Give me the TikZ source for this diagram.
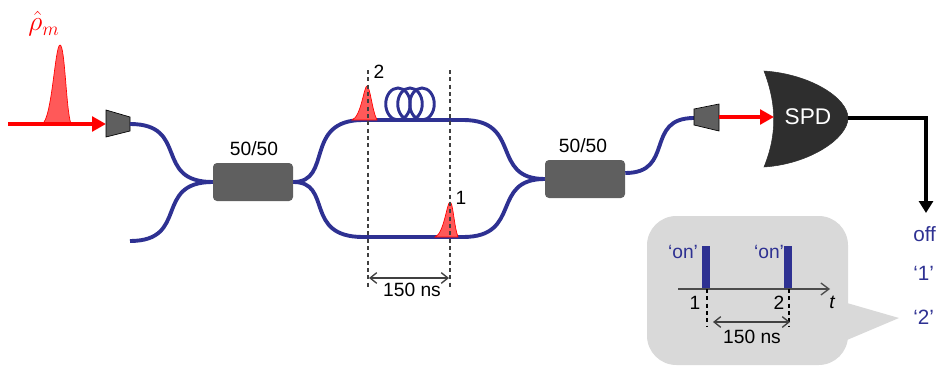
\documentclass[tikz,border=0pt]{standalone}
\usepackage{amsmath,amssymb}
\usepackage{fontspec}
\setmainfont{Liberation Sans}
\usetikzlibrary{arrows.meta}
\definecolor{fibre}{RGB}{46,49,146}
\definecolor{blockgray}{RGB}{95,95,95}
\definecolor{insetgray}{RGB}{217,217,217}
\tikzset{
  fibreline/.style={draw=fibre,line width=2.9pt},
  splitter/.style={rectangle,fill=blockgray,rounded corners=3pt,minimum width=60pt,minimum height=28.5pt,inner sep=0pt},
  coupler/.style={draw=black,line width=0.5pt,fill=blockgray},
  redbeam/.style={draw=red,line width=3.2pt,-{Triangle[length=10.5pt,width=11pt]}},
  pulseshape/.style={draw=red,line width=0.5pt,fill=red!65},
  marker/.style={line width=0.8pt,draw=black!75,dash pattern=on 3pt off 2.5pt},
  span/.style={draw=black!75,line width=1pt,{Straight Barb[length=5pt,width=8pt]}-{Straight Barb[length=5pt,width=8pt]}},
  lab/.style={font=\fontsize{14.4}{16}\selectfont,inner sep=0pt},
  statelab/.style={font=\fontsize{15.5}{17}\selectfont,text=fibre,inner sep=0pt,anchor=west}
}
\begin{document}
\begin{tikzpicture}[x=0.75pt,y=-0.75pt]
\useasboundingbox (0,0) rectangle (939,371);

% Input pulse and coupler
\node[text=red,inner sep=0pt,font=\fontsize{22}{24}\selectfont] (rho) at (44,24) {$\hat{\rho}_m$};
\draw[pulseshape] (42,124) .. controls (52,120) and (55,45) .. (60,45) .. controls (65,45) and (66,110) .. (71,124) -- cycle;
\coordinate (beamstart) at (8,124);
\coordinate (cplina) at (106,124);
\coordinate (cplinb) at (130,124);
\draw[redbeam] (beamstart) -- (cplina);
\draw[coupler] (106,110) -- (130,117) -- (130,131) -- (106,137) -- cycle;
\coordinate (freeend) at (130,241);

% First splitter
\node[splitter] (bsa) at (253,182) {};
\node[lab] (bsalab) at (254,149) {50/50};
\draw[fibreline] (cplinb) .. controls +(60,0) and +(-60,0) .. (bsa.west);
\draw[fibreline] (freeend) .. controls +(60,0) and +(-60,0) .. (bsa.west);

% Interferometer arms
\node[splitter] (bsb) at (585,179) {};
\node[lab] (bsblab) at (583,146) {50/50};
\coordinate (upl) at (363,120);
\coordinate (upr) at (463,120);
\coordinate (lol) at (363,237);
\coordinate (lor) at (463,237);
\draw[fibreline] (bsa.east) .. controls +(40,0) and +(-60,0) .. (upl) -- (upr) .. controls +(60,0) and +(-55,0) .. (bsb.west);
\draw[fibreline] (bsa.east) .. controls +(40,0) and +(-60,0) .. (lol) -- (lor) .. controls +(60,0) and +(-55,0) .. (bsb.west);

% Delay loop
\foreach \cx in {398,410,422}
  \draw[draw=fibre,line width=2.2pt] (\cx,104) ellipse [x radius=9.2pt,y radius=12pt];

% Pulses in the arms
\draw[pulseshape] (352,120) .. controls (361,117) and (364,86) .. (367,86) .. controls (370,86) and (372,110) .. (377,120) -- cycle;
\draw[pulseshape] (435,237) .. controls (444,234) and (447,202) .. (450,202) .. controls (453,202) and (454,226) .. (458,237) -- cycle;
\node[lab] (tagb) at (379,72) {2};
\node[lab] (taga) at (461,198) {1};

% Delay markers
\coordinate (mka) at (368,70);
\coordinate (mkb) at (368,288);
\coordinate (mkc) at (450,70);
\coordinate (mkd) at (450,288);
\draw[marker] (mka) -- (mkb);
\draw[marker] (mkc) -- (mkd);
\coordinate (spa) at (369,278);
\coordinate (spb) at (449,278);
\draw[span] (spa) -- (spb);
\node[lab] (delay) at (412,290) {150 ns};

% Output coupler and detector
\coordinate (cplouta) at (694,118);
\coordinate (cploutb) at (719,117);
\draw[fibreline] ([yshift=4.5pt]bsb.east) .. controls +(50,0) and +(-50,0) .. (cplouta);
\draw[coupler] (694,109) -- (719,104) -- (719,131) -- (694,125) -- cycle;
\draw[fill=black!82,draw=black!82] (764,71) .. controls (810,74) and (848,98) .. (848,118) .. controls (848,138) and (810,164) .. (764,167) .. controls (777,135) and (777,105) .. (764,71) -- cycle;
\node[text=white,inner sep=0pt,font=\fontsize{17}{19}\selectfont] (spd) at (808,117) {SPD};
\coordinate (spdin) at (774,117);
\coordinate (spdout) at (848,118);
\coordinate (outend) at (926,213);
\draw[redbeam] (cploutb) -- (spdin);
\draw[line width=2.6pt,-{Triangle[length=9pt,width=10.5pt]}] (spdout) -| (outend);

% Detector outcomes
\node[statelab] (off) at (913,234) {off};
\node[statelab] (one) at (913,273) {‘1’};
\node[statelab] (two) at (913,317) {‘2’};

% Timing inset
\fill[insetgray,rounded corners=22pt] (647,216) rectangle (848,365);
\fill[insetgray] (847,303) -- (899,318) -- (847,340) -- cycle;
\fill[fibre] (702,246) rectangle (710,289);
\fill[fibre] (784,246) rectangle (792,289);
\coordinate (axa) at (678,289);
\coordinate (axb) at (830,289);
\draw[draw=black!70,line width=1pt,-{Straight Barb[length=6pt,width=9pt]}] (axa) -- (axb);
\node[lab,text=fibre] (ona) at (683,252) {‘on’};
\node[lab,text=fibre] (onb) at (769,252) {‘on’};
\node[lab] (tica) at (695,303) {1};
\node[lab] (ticb) at (779,303) {2};
\node[lab] (taxis) at (832,302) {\itshape t};
\coordinate (ila) at (707,289);
\coordinate (ilb) at (707,327);
\coordinate (ilc) at (789,289);
\coordinate (ild) at (789,327);
\draw[marker,draw=black] (ila) -- (ilb);
\draw[marker,draw=black] (ilc) -- (ild);
\coordinate (isa) at (713,322);
\coordinate (isb) at (790,322);
\draw[span] (isa) -- (isb);
\node[lab] (idelay) at (752,337) {150 ns};
\end{tikzpicture}
\end{document}
